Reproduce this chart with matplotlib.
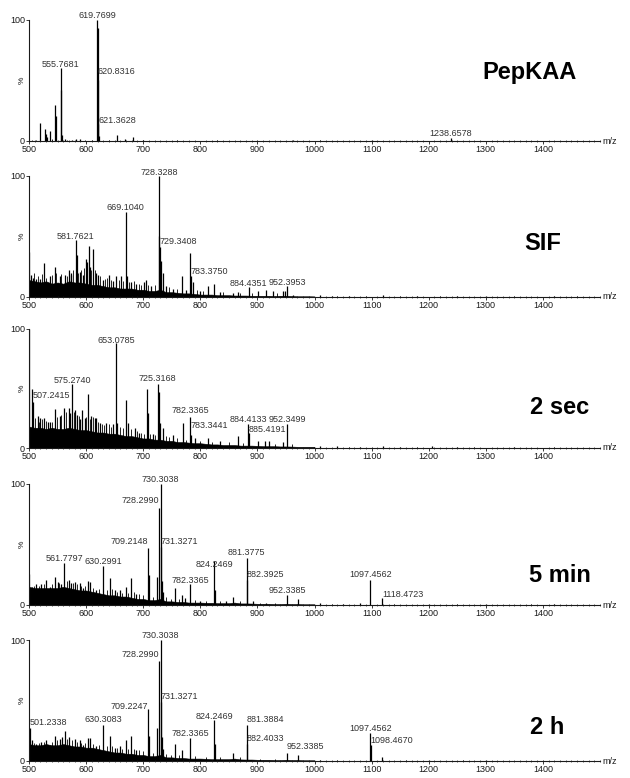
import numpy as np
import matplotlib
matplotlib.use("Agg")
import matplotlib.pyplot as plt
from matplotlib.ticker import MultipleLocator

plt.rcParams["font.family"] = ["Liberation Sans", "DejaVu Sans"]

# ---- data (m/z, relative intensity %) ----
GRASS_MZ = list(range(500, 1001, 10))

PEP_NAME = "PepKAA"
PEP_MZ = [519.8, 527.4, 529.2, 532.1, 537.3, 544.9, 546.7, 555.77, 556.27, 557.3,
          562.4, 575.0, 582.8, 589.8, 619.77, 620.27, 620.83, 621.36, 621.8,
          654.0, 667.4, 682.0, 700.0, 962.0, 1100.0, 1238.66]
PEP_INT = [15, 10, 6, 3, 8, 30, 21, 60, 42, 5,
           2, 1, 2, 1.5, 100, 93, 50, 14, 4,
           5, 2, 3, 0.8, 1, 0.5, 2.5]
PEP_GRASS = None
PEP_NOISE_MZ = [505, 512, 540, 566, 598, 610, 640, 700, 760, 830, 900, 1010, 1150, 1300, 1420]
PEP_NOISE_INT = [1, 1, 1.5, 1, 0.8, 0.8, 1, 0.8, 0.6, 0.6, 0.5, 0.5, 0.4, 0.4, 0.4]
PEP_LABELS = ["619.7699", "555.7681", "620.8316", "621.3628", "1238.6578"]

SIF_NAME = "SIF"
SIF_MZ = [500.5, 504, 507, 513, 518.7, 525.7, 536, 545, 553.7, 562.4, 570, 573, 574,
          581.76, 583.4, 588.7, 594.5, 599.2, 601.5, 605, 606.2, 612.6, 617.9, 620.8,
          629.5, 640, 647, 652.9, 661.6, 669.10, 671.5, 679, 688, 701.3, 705.4, 714,
          727.3, 728.33, 729.34, 730.3, 734.5, 740.4, 752, 768.4, 775.4, 782.4, 783.38,
          787, 798.7, 813.3, 823.2, 833.7, 857, 865.8, 884.44, 901.4, 915.4, 927,
          944.6, 949.2, 952.40, 962, 1010, 1030, 1060, 1120, 1180, 1250, 1300, 1420]
SIF_INT = [37, 18, 16, 15, 15, 28, 17, 25, 17, 18, 22, 20, 18,
           47, 35, 21, 18, 31, 29, 42, 25, 40, 20, 18,
           14, 18, 13, 17, 17, 70, 17, 12, 11, 12, 14, 9,
           50, 100, 41, 30, 20, 9, 7, 17, 6, 36, 17,
           12, 5, 9, 11, 4, 3, 4, 8, 5, 6, 5,
           5, 5, 9, 2, 1.5, 1.2, 1, 2, 1, 0.8, 0.8, 0.8]
SIF_GRASS = [14, 13, 12, 13, 11, 12, 11, 13, 12, 12, 11, 10, 10, 9, 8, 8, 7, 7, 7, 6,
             6, 5, 5, 6, 4, 4, 3.5, 3, 3, 2.5, 2, 2, 2, 1.5, 1.5, 1.5, 1.2, 1.2, 1.2, 1,
             1, 1, 1, 0.8, 1, 1, 0.8, 0.6, 0.6, 0.6, 0.5]
SIF_NOISE_MZ = [508, 515, 522, 530, 540, 548, 556, 566, 577, 586, 591, 597, 609, 615,
                625, 633, 637, 644, 657, 664, 675, 684, 692, 697, 709, 720, 745, 760,
                795, 805, 840, 870, 890, 935, 1040, 1090, 1150, 1220, 1350, 1460]
SIF_NOISE_INT = [20, 17, 19, 16, 18, 20, 19, 17, 22, 20, 22, 24, 22, 22,
                 17, 15, 16, 14, 14, 13, 12, 13, 11, 10, 10, 10, 8, 7,
                 6, 5, 4, 3, 3, 3, 1, 1, 0.8, 0.8, 0.6, 0.6]
SIF_LABELS = ["728.3288", "669.1040", "581.7621", "729.3408", "783.3750",
              "884.4351", "952.3953"]

SEC_NAME = "2 sec"
SEC_MZ = [500.4, 505.3, 507.24, 515.8, 519.8, 526.3, 533.3, 537.3, 545, 553.7, 561.3,
          570, 572.3, 575.27, 580, 584, 588.7, 593.3, 597.4, 603.9, 609.1, 615, 617.9,
          623.7, 635.4, 647, 653.08, 654.6, 669.2, 673.3, 685, 692.5, 706.5, 708.3, 717,
          725.32, 728.1, 729.9, 734.5, 752, 769.5, 782.34, 783.34, 790, 813.3, 833.7,
          865.8, 884.41, 885.42, 900.8, 912.5, 920, 944.6, 952.35,
          1010, 1040, 1080, 1120, 1150, 1205, 1250, 1350]
SEC_INT = [100, 50, 39, 27, 25, 25, 22, 22, 33, 27, 34,
           34, 29, 54, 32, 28, 24, 32, 25, 45, 27, 25, 25,
           21, 21, 20, 88, 21, 40, 21, 17, 13, 50, 29, 12,
           54, 47, 21, 17, 11, 21, 26, 11, 8, 8, 6,
           10, 20, 13, 6, 6, 6, 5, 20,
           2, 1.5, 1.2, 1.5, 1, 1.5, 0.8, 0.8]
SEC_GRASS = [18, 17, 17, 16, 17, 16, 16, 17, 16, 15, 15, 14, 13, 13, 12, 12, 11, 10, 10, 9,
             8, 8, 7, 7, 6, 6, 5, 5, 4.5, 4, 4, 3.5, 3, 3, 2.5, 2.5, 2.5, 2, 2, 2,
             1.8, 1.5, 1.5, 1.5, 1.3, 1.3, 1.2, 1, 1, 1, 1]
SEC_NOISE_MZ = [510, 518, 523, 530, 540, 549, 556, 565, 578, 587, 599, 606, 612, 620,
                628, 632, 640, 644, 660, 664, 678, 690, 697, 702, 712, 720, 740, 745,
                760, 775, 800, 820, 850, 875, 930, 960, 1060, 1100, 1180, 1280, 1420]
SEC_NOISE_INT = [25, 22, 24, 23, 22, 26, 28, 30, 30, 27, 26, 24, 26, 22,
                 20, 19, 20, 18, 18, 17, 16, 14, 13, 12, 12, 11, 10, 9,
                 8, 7, 6, 5, 5, 4, 3, 3, 1.2, 1.2, 1, 0.8, 0.6]
SEC_LABELS = ["653.0785", "575.2740", "507.2415", "725.3168", "782.3365",
              "783.3441", "884.4133", "952.3499", "885.4191"]

MIN_NAME = "5 min"
MIN_MZ = [500.4, 505.3, 512.8, 521.6, 530.3, 536, 545, 550.8, 556.6, 561.78, 570, 574,
          580, 588.7, 594.5, 603.3, 607.4, 617.9, 630.30, 642.4, 650, 658.7, 669.2,
          679.1, 688, 709.21, 710.2, 724.6, 728.30, 730.30, 731.33, 732.3, 734.5, 756,
          768.4, 772.5, 782.34, 798.7, 824.25, 825.25, 845, 857, 881.38, 882.39, 892,
          915.4, 952.34, 970.8, 1010, 1050, 1080, 1097.46, 1118.47, 1200, 1300, 1420]
MIN_INT = [26, 15, 17, 17, 21, 15, 23, 19, 17, 35, 21, 18,
           19, 18, 14, 20, 19, 12, 32, 22, 12, 12, 15,
           22, 9, 47, 25, 23, 80, 100, 48, 20, 11, 14,
           8, 6, 17, 3, 36, 12, 3, 7, 39, 21, 3,
           2, 8, 5, 1.5, 1, 1.5, 21, 5.5, 0.8, 0.8, 1]
MIN_GRASS = [15, 14, 14, 14, 14, 14, 15, 14, 13, 12, 12, 11, 10, 9, 8, 8, 7, 7, 6, 5,
             5, 4, 4, 5, 3, 3, 2.5, 2.5, 2, 2, 2, 1.8, 1.8, 1.5, 1.5, 1.5, 2, 1.3, 1.3,
             1.2, 1, 1, 1, 0.8, 0.8, 1, 0.8, 0.8, 0.6, 0.6, 0.6]
MIN_NOISE_MZ = [508, 517, 526, 540, 553, 566, 577, 584, 591, 598, 612, 622, 636, 646,
                654, 663, 674, 684, 693, 700, 718, 740, 748, 762, 790, 810, 835, 870,
                905, 930, 1030, 1140, 1250, 1380]
MIN_NOISE_INT = [16, 16, 17, 17, 18, 20, 18, 17, 16, 16, 14, 13, 12, 13,
                 11, 10, 10, 11, 9, 8, 7, 7, 5, 5, 4, 3, 3, 3,
                 2, 2, 1, 0.8, 0.6, 0.6]
MIN_LABELS = ["730.3038", "728.2990", "709.2148", "731.3271", "561.7797", "630.2991",
              "824.2469", "881.3775", "882.3925", "782.3365", "952.3385",
              "1097.4562", "1118.4723"]

HR_NAME = "2 h"
HR_MZ = [501.23, 505.3, 512.8, 521.6, 530.3, 536, 545, 553.7, 557.8, 562.4, 570, 580,
         588.7, 594.5, 603.3, 607.4, 617.9, 630.31, 642.4, 650, 658.7, 669.2, 679.1,
         688, 709.22, 710.2, 724.6, 728.30, 730.30, 731.33, 732.3, 734.5, 756, 768.4,
         782.34, 824.25, 825.25, 857, 881.39, 882.40, 952.34, 970.8,
         1010, 1097.46, 1098.47, 1119, 1200, 1300]
HR_INT = [27, 17, 14, 16, 17, 13, 21, 18, 20, 25, 20, 18,
          17, 13, 19, 19, 12, 30, 21, 11, 12, 17, 21,
          9, 43, 21, 27, 83, 100, 49, 20, 10, 14, 9,
          19, 34, 14, 7, 30, 14, 7, 5,
          1.2, 23, 13, 3, 0.8, 0.8]
HR_GRASS = [14, 13, 13, 14, 13, 13, 14, 13, 12, 12, 11, 11, 10, 9, 8, 7, 7, 6, 6, 5,
            5, 4, 4, 5, 3, 3, 2.5, 2.5, 2, 2, 2, 1.8, 1.5, 1.5, 1.5, 1.5, 2, 1.3, 1.2,
            1.2, 1, 1, 1, 0.8, 0.8, 1, 0.8, 0.8, 0.6, 0.6, 0.6]
HR_NOISE_MZ = [509, 517, 526, 540, 549, 566, 575, 584, 591, 598, 612, 622, 636, 646,
               654, 663, 674, 684, 693, 700, 718, 740, 748, 762, 790, 810, 835, 870,
               905, 930, 1040, 1160, 1260, 1400]
HR_NOISE_INT = [15, 15, 16, 16, 17, 18, 17, 16, 15, 15, 14, 13, 12, 12,
                11, 10, 10, 10, 9, 8, 7, 6, 5, 5, 4, 3, 3, 3,
                2, 2, 1, 0.8, 0.6, 0.6]
HR_LABELS = ["730.3038", "728.2990", "709.2247", "731.3271", "501.2338", "630.3083",
             "824.2469", "881.3884", "882.4033", "782.3365", "952.3385",
             "1097.4562", "1098.4670"]

# ---- layout (pixels of the 630x778 reference) ----
# label placement: (horizontal alignment, baseline height in %)
PEP_PLACE = [("center", 101.5), ("center", 61.5), ("left", 55), ("left", 14.5), ("center", 4.5)]
SIF_PLACE = [("center", 101), ("center", 71.5), ("center", 48), ("left", 43.5),
             ("left", 19), ("center", 9), ("center", 10)]
SEC_PLACE = [("center", 88.5), ("center", 55), ("left", 42), ("center", 56), ("center", 29),
             ("left", 17), ("center", 22), ("center", 22), ("left", 13.4)]
MIN_PLACE = [("center", 102), ("right", 84), ("right", 50), ("left", 50.5), ("center", 36),
             ("center", 33.7), ("center", 31.8), ("center", 41), ("left", 23.5),
             ("center", 18), ("center", 9.7), ("center", 23.5), ("left", 7)]
HR_PLACE = [("center", 102), ("right", 85.6), ("right", 43), ("left", 51.6), ("left", 29.6),
            ("center", 32), ("center", 35), ("left", 32), ("left", 16.6), ("center", 21),
            ("left", 9.7), ("center", 25), ("left", 15)]

panels = [
    (PEP_NAME, PEP_MZ, PEP_INT, PEP_GRASS, PEP_NOISE_MZ, PEP_NOISE_INT, PEP_LABELS,
     PEP_PLACE, (141, 20), (530, 73)),
    (SIF_NAME, SIF_MZ, SIF_INT, SIF_GRASS, SIF_NOISE_MZ, SIF_NOISE_INT, SIF_LABELS,
     SIF_PLACE, (297, 176), (543, 243)),
    (SEC_NAME, SEC_MZ, SEC_INT, SEC_GRASS, SEC_NOISE_MZ, SEC_NOISE_INT, SEC_LABELS,
     SEC_PLACE, (448, 329), (560, 408)),
    (MIN_NAME, MIN_MZ, MIN_INT, MIN_GRASS, MIN_NOISE_MZ, MIN_NOISE_INT, MIN_LABELS,
     MIN_PLACE, (605, 484), (560, 575)),
    (HR_NAME, HR_MZ, HR_INT, HR_GRASS, HR_NOISE_MZ, HR_NOISE_INT, HR_LABELS,
     HR_PLACE, (761, 640), (547, 727)),
]

W, H = 630, 778
X0, X1 = 29, 600
INK = "#1a1a1a"
LABEL_COLOR = "#333333"

fig = plt.figure(figsize=(W / 100, H / 100), dpi=100)

for (name, mz, inten, grass, noise_mz, noise_int, labels, place,
     (ybot, ytop), (tx, ty)) in panels:
    ax = fig.add_axes([X0 / W, 1 - ybot / H, (X1 - X0) / W, (ybot - ytop) / H])
    ax.set_xlim(500, 1500)
    ax.set_ylim(0, 100)

    if grass is not None:
        ax.fill_between(GRASS_MZ, 0, grass, color="black", lw=0.4)
    ax.vlines(noise_mz, 0, noise_int, color="black", lw=0.6)
    ax.vlines(mz, 0, inten, color="black", lw=0.9)

    for text, (ha, y) in zip(labels, place):
        x = float(text)
        if ha == "left":
            x -= 0.5
        ax.text(x, y, text, ha=ha, va="baseline", fontsize=6.5,
                color=LABEL_COLOR, clip_on=False)

    for side in ("top", "right"):
        ax.spines[side].set_visible(False)
    for side in ("left", "bottom"):
        ax.spines[side].set_color(INK)
        ax.spines[side].set_linewidth(0.8)
    ax.spines["left"].set_bounds(0, 100)

    ax.set_xticks(range(500, 1401, 100))
    ax.xaxis.set_minor_locator(MultipleLocator(10))
    ax.set_yticks([0, 100])
    ax.tick_params(axis="both", which="major", labelsize=6.5, length=2.5, width=0.6,
                   pad=0.5, colors=INK)
    ax.tick_params(axis="x", which="minor", length=1.5, width=0.5, direction="inout",
                   colors=INK)
    ax.set_facecolor("none")

    ax.text(-0.011, 0.5, "%", rotation=90, transform=ax.transAxes, fontsize=6,
            ha="center", va="center", color=INK)
    ax.text(1.005, 0.0, "m/z", transform=ax.transAxes, fontsize=6.5,
            ha="left", va="center", color=INK)

    fig.text(tx / W, 1 - ty / H, name, fontsize=17, fontweight="bold",
             ha="center", va="center", color="black")

fig.savefig("out.png", dpi=100)
